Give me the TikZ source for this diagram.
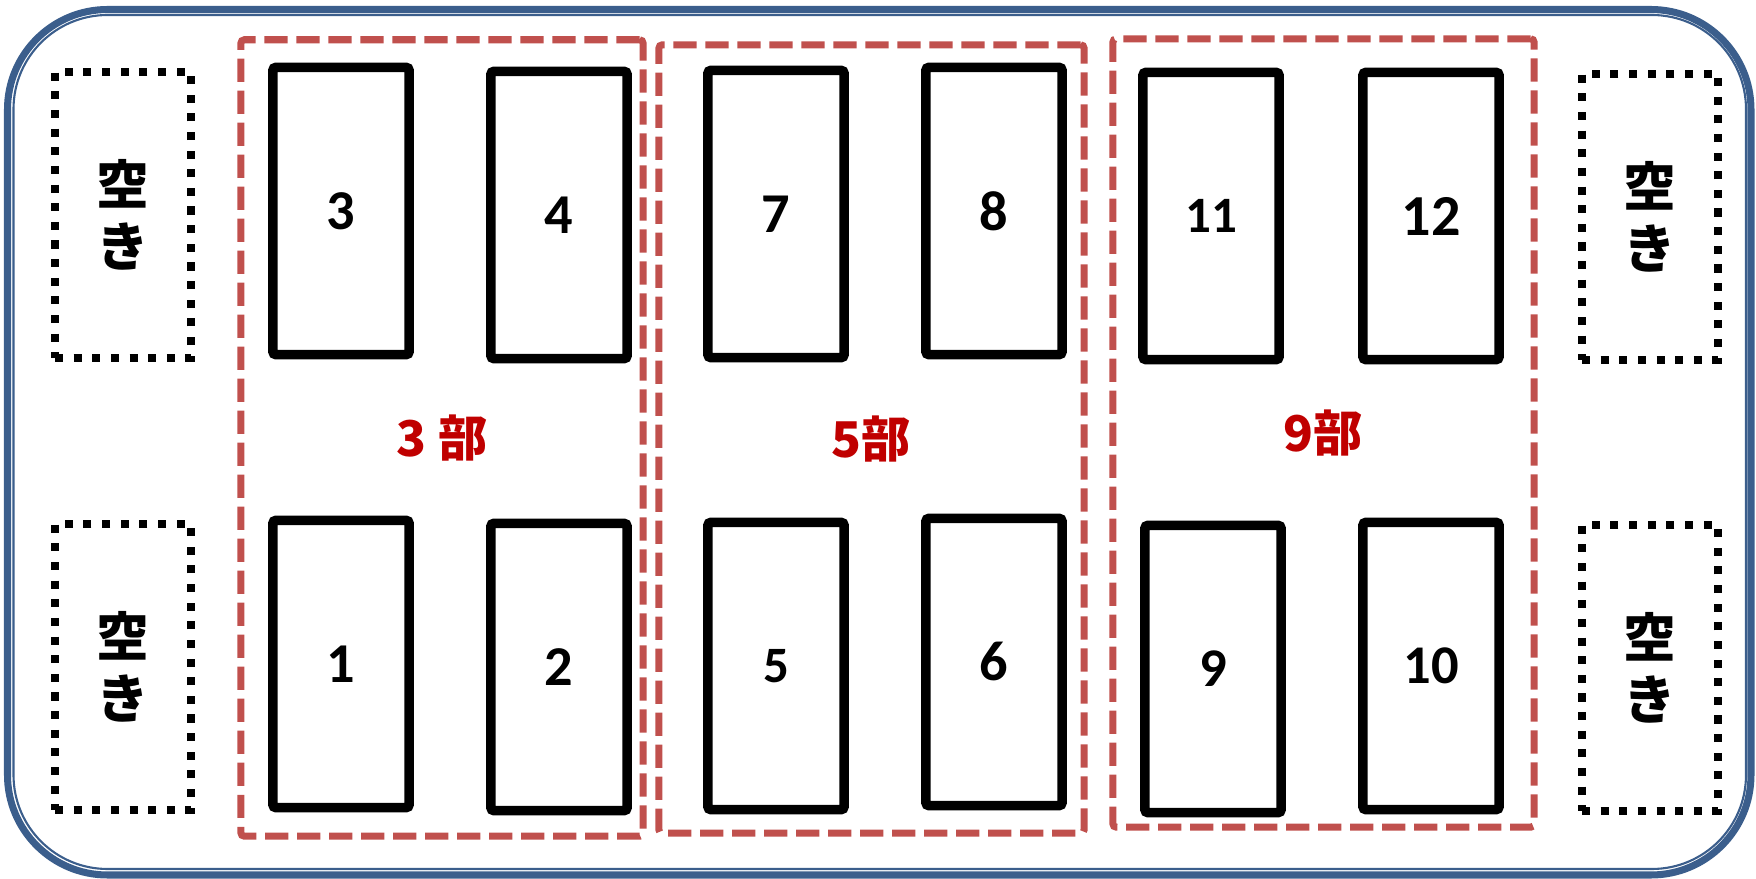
\documentclass[tikz,border=0pt]{standalone}
\usepackage{fontspec}
\setmainfont{Carlito}
\newfontfamily\jpfont{Noto Sans CJK JP}
\definecolor{frameblue}{HTML}{3B5E8C}
\definecolor{partline}{HTML}{C0504D}
\definecolor{partred}{HTML}{C00000}
\tikzset{
  seat/.style={draw,line width=2.7pt,rounded corners=0.8pt,minimum width=1.36cm,minimum height=2.87cm,inner sep=0pt,font=\bfseries\fontsize{16}{18}\selectfont},
  emptyseat/.style={draw,line width=2.3pt,dash pattern=on 2.3pt off 3pt,minimum width=1.36cm,minimum height=2.86cm,inner sep=0pt,align=center,font=\jpfont\bfseries\fontsize{15}{17.5}\selectfont},
  part/.style={draw=partline,line width=2pt,dash pattern=on 6.6pt off 2.5pt,rounded corners=1pt,text=partred,font=\jpfont\bfseries\fontsize{14}{16}\selectfont}
}
\begin{document}
\begin{tikzpicture}[x=0.01cm,y=-0.01cm]
\useasboundingbox (0,0) rectangle (1756,879);
% frame
\draw[frameblue,line width=2pt,rounded corners=1cm] (7.5,9.5) rectangle (1751,875);
\draw[frameblue,line width=0.6pt,rounded corners=0.94cm] (13.5,15) rectangle (1746,869);
% parts
\node[part,minimum width=4.02cm,minimum height=7.96cm] (g3) at (442,438) {3 部};
\node[part,minimum width=4.25cm,minimum height=7.88cm] (g5) at (871.5,439) {5部};
\node[part,minimum width=4.21cm,minimum height=7.88cm] (g9) at (1323.5,433) {9部};
% seats
\foreach \n/\x/\y/\s in {3/341/211/16,4/559/215/16,7/776/214/16,8/994/211/16,
  11/1211/216/14.5,12/1431/216/16.5,1/341/664/16,2/559/667/16,5/776/666/14.5,
  6/994/662/16,9/1213/669/15.5,10/1431/666/15.5}
  \node[seat,font=\bfseries\fontsize{\s}{18}\selectfont] (s\n) at (\x,\y) {\n};
% empty places
\foreach \n/\x/\y in {1/123/215,2/123/667,3/1650/217,4/1650/668}
  \node[emptyseat] (e\n) at (\x,\y) {空\\き};
\end{tikzpicture}
\end{document}
